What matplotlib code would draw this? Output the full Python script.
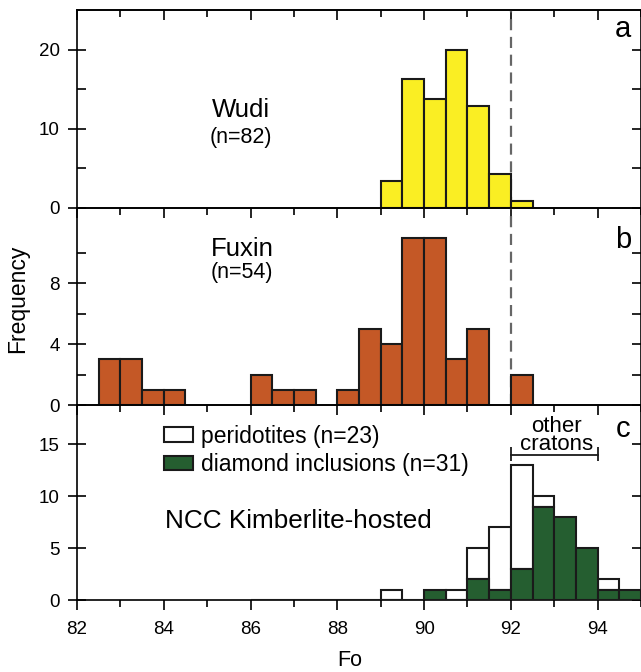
import matplotlib
matplotlib.use("Agg")
import matplotlib.pyplot as plt
from matplotlib.ticker import MultipleLocator, FixedLocator

plt.rcParams["font.family"] = ["Liberation Sans", "DejaVu Sans"]

BIN = 0.5

# Wudi olivine Fo histogram
wudi_left = [89.0, 89.5, 90.0, 90.5, 91.0, 91.5, 92.0]
wudi_freq = [3.4, 16.3, 13.7, 20.0, 12.8, 4.2, 0.8]

# Fuxin olivine Fo histogram
fuxin_left = [82.5, 83.0, 83.5, 84.0, 86.0, 86.5, 87.0, 88.0,
              88.5, 89.0, 89.5, 90.0, 90.5, 91.0, 92.0]
fuxin_freq = [3, 3, 1, 1, 2, 1, 1, 1, 5, 4, 11, 11, 3, 5, 2]

# NCC kimberlite-hosted: diamond inclusions plus peridotites stacked on top
ncc_left = [86.0, 86.5, 87.0, 87.5, 88.0, 88.5, 89.0, 89.5, 90.0,
            90.5, 91.0, 91.5, 92.0, 92.5, 93.0, 93.5, 94.0, 94.5]
diamond_freq = [0, 0, 0, 0, 0, 0, 0, 0, 1, 0, 2, 1, 3, 9, 8, 5, 1, 1]
perid_freq = [0, 0, 0, 0, 0, 0, 1, 0, 0, 1, 3, 6, 10, 1, 0, 0, 1, 0]

YELLOW = "#FAEE23"
ORANGE = "#C45826"
GREEN = "#255E30"

fig = plt.figure(figsize=(6.41, 6.72), dpi=100)
L, W = 77 / 641, 564 / 641
ax_a = fig.add_axes([L, 0.6912, W, 0.2939])
ax_b = fig.add_axes([L, 0.3973, W, 0.2939])
ax_c = fig.add_axes([L, 0.1071, W, 0.2902])

bar_kw = dict(width=BIN, align="edge", edgecolor="#1a1a1a", linewidth=1.5, zorder=3)

ax_a.bar(wudi_left, wudi_freq, color=YELLOW, **bar_kw)
ax_b.bar(fuxin_left, fuxin_freq, color=ORANGE, **bar_kw)

perid_x = [x for x, p in zip(ncc_left, perid_freq) if p > 0]
perid_h = [p for p in perid_freq if p > 0]
perid_bottom = [d for d, p in zip(diamond_freq, perid_freq) if p > 0]
ax_c.bar(perid_x, perid_h, bottom=perid_bottom, color="white",
         label="peridotites (n=23)", **bar_kw)
ax_c.bar(ncc_left, diamond_freq, color=GREEN,
         label="diamond inclusions (n=31)", **bar_kw)

for ax in (ax_a, ax_b):
    ax.axvline(92, color="#666666", linestyle=(0, (5, 3)), linewidth=1.6, zorder=1)

ax_a.set_ylim(0, 25)
ax_a.yaxis.set_major_locator(FixedLocator([0, 10, 20]))
ax_a.yaxis.set_minor_locator(FixedLocator([5, 15]))
ax_b.set_ylim(0, 13)
ax_b.yaxis.set_major_locator(FixedLocator([0, 4, 8]))
ax_b.yaxis.set_minor_locator(FixedLocator([2, 6, 10]))
ax_c.set_ylim(0, 18.8)
ax_c.yaxis.set_major_locator(FixedLocator([0, 5, 10, 15]))
ax_c.yaxis.set_minor_locator(FixedLocator([]))

for ax in (ax_a, ax_b, ax_c):
    ax.patch.set_visible(False)
    ax.set_xlim(82, 95)
    ax.xaxis.set_major_locator(MultipleLocator(2))
    ax.xaxis.set_minor_locator(MultipleLocator(1))
    for s in ax.spines.values():
        s.set_linewidth(1.2)
    ax.tick_params(axis="y", which="major", direction="inout", length=13,
                   width=1.2, pad=6, labelsize=13.5, left=True, right=True)
    ax.tick_params(axis="y", which="minor", direction="in", length=6.5,
                   width=1.2, left=True, right=True)
    ax.tick_params(axis="x", which="major", direction="out", length=7,
                   width=1.2, pad=8, labelsize=13.5)
    ax.tick_params(axis="x", which="minor", direction="out", length=5, width=1.2)
    if ax is not ax_c:
        ax.tick_params(axis="x", labelbottom=False)

# inward ticks along the very top edge
top = ax_a.secondary_xaxis("top")
top.xaxis.set_major_locator(MultipleLocator(2))
top.xaxis.set_minor_locator(MultipleLocator(1))
top.tick_params(which="major", direction="in", length=7, width=1.2, labeltop=False)
top.tick_params(which="minor", direction="in", length=5, width=1.2)
top.spines["top"].set_linewidth(1.2)

ax_a.text(0.291, 0.458, "Wudi", transform=ax_a.transAxes, ha="center",
          va="baseline", fontsize=18.5)
ax_a.text(0.291, 0.327, "(n=82)", transform=ax_a.transAxes, ha="center",
          va="baseline", fontsize=15.5)
ax_b.text(0.293, 0.753, "Fuxin", transform=ax_b.transAxes, ha="center",
          va="baseline", fontsize=18.5)
ax_b.text(0.293, 0.643, "(n=54)", transform=ax_b.transAxes, ha="center",
          va="baseline", fontsize=15.5)
ax_c.text(0.156, 0.371, "NCC Kimberlite-hosted", transform=ax_c.transAxes,
          ha="left", va="baseline", fontsize=18.8)

for ax, lab, yb in ((ax_a, "a", 0.864), (ax_b, "b", 0.797), (ax_c, "c", 0.837)):
    ax.text(0.968, yb, lab, transform=ax.transAxes, ha="center",
            va="baseline", fontsize=21)

# bracket marking the Fo range of other cratons
ax_c.plot([92, 94], [13.95, 13.95], color="#1a1a1a", lw=1.3, zorder=4)
ax_c.vlines([92, 94], 13.45, 14.8, color="#1a1a1a", lw=1.3, zorder=4)
ax_c.text(93.05, 13.97, "other\ncratons", ha="center", va="bottom",
          multialignment="center", linespacing=0.8, fontsize=16)

ax_c.legend(loc="upper left", bbox_to_anchor=(0.155, 0.90), frameon=False,
            fontsize=16.5, handlelength=1.25, handleheight=0.6,
            handletextpad=0.35, labelspacing=0.25, borderpad=0,
            borderaxespad=0)

fig.text(18 / 641, 1 - 299 / 672, "Frequency", rotation=90, ha="center",
         va="center", fontsize=16.5)
fig.text(350 / 641, 1 - 660 / 672, "Fo", ha="center", va="center", fontsize=15.5)

fig.savefig("out.png", dpi=100)
